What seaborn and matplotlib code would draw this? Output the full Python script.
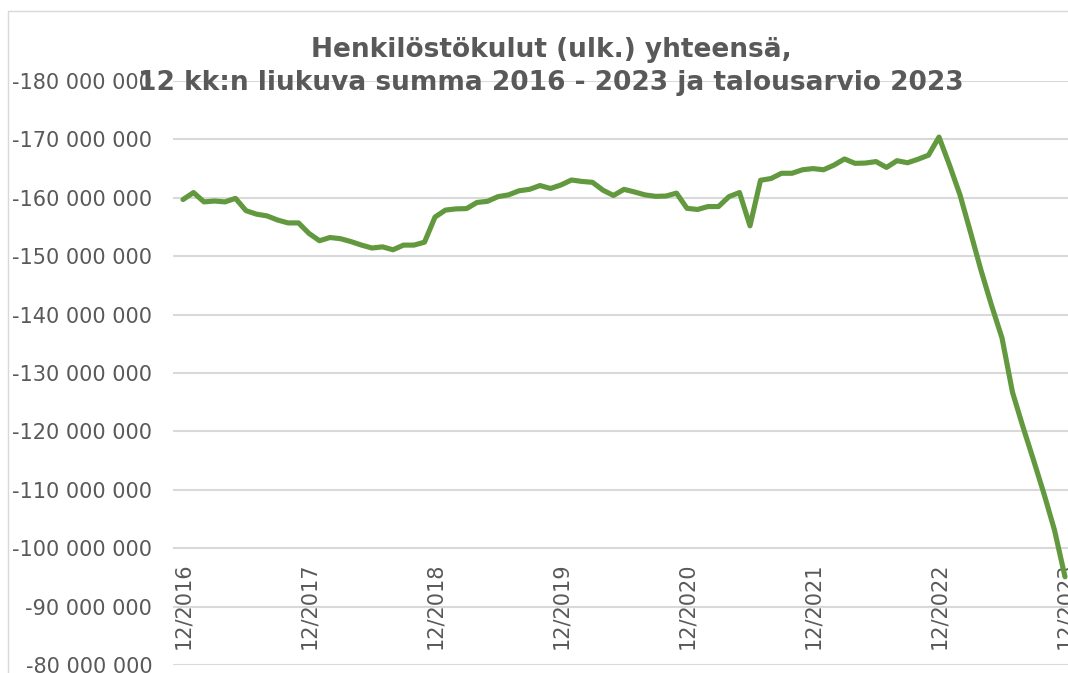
import matplotlib
matplotlib.use("Agg")
import matplotlib.pyplot as plt
from matplotlib.lines import Line2D
from matplotlib.ticker import FuncFormatter, FixedLocator
import seaborn as sns
import pandas as pd
import numpy as np

# ---- data (12-month rolling sum, EUR), monthly 12/2016 .. 12/2023 ----
month_index = list(range(85))
values_millions = [
    -159.7, -160.9, -159.3, -159.45, -159.3, -159.9, -157.8, -157.2, -156.9, -156.2,
    -155.7, -155.7, -153.9, -152.65, -153.2, -153.0, -152.5, -151.9, -151.4, -151.6,
    -151.1, -151.9, -151.9, -152.4, -156.7, -157.9, -158.1, -158.15, -159.2, -159.4,
    -160.2, -160.5, -161.2, -161.45, -162.1, -161.6, -162.2, -163.05, -162.8, -162.65,
    -161.3, -160.4, -161.45, -161.0, -160.5, -160.25, -160.3, -160.8, -158.2, -158.0,
    -158.5, -158.5, -160.2, -160.9, -155.2, -163.0, -163.3, -164.2, -164.2, -164.8,
    -165.0, -164.8, -165.6, -166.65, -165.9, -165.95, -166.2, -165.2, -166.35, -166.0,
    -166.6, -167.3, -170.4, -165.6, -160.5, -154.1, -147.6, -141.6, -136.0, -126.7,
    -120.75, -115.1, -109.3, -103.1, -95.1,
]
tick_positions = [0, 12, 24, 36, 48, 60, 72, 84]
tick_labels = ["12/2016", "12/2017", "12/2018", "12/2019",
               "12/2020", "12/2021", "12/2022", "12/2023"]
y_ticks = [-180e6, -170e6, -160e6, -150e6, -140e6, -130e6,
           -120e6, -110e6, -100e6, -90e6, -80e6]
title_line1 = "Henkilöstökulut (ulk.) yhteensä,"
title_line2 = "12 kk:n liukuva summa 2016 - 2023 ja talousarvio 2023"

df = pd.DataFrame({"m": month_index,
                   "value": [v * 1e6 for v in values_millions]})

sns.set_theme(style="white")
plt.rcParams["font.family"] = ["DejaVu Sans"]
plt.rcParams["axes.unicode_minus"] = False

W, H = 1068, 673
fig = plt.figure(figsize=(W / 100, H / 100), dpi=100)
fig.patch.set_facecolor("white")

left_px, right_px, top_px, bottom_px = 173, 1075, 81, 665
ax = fig.add_axes([left_px / W, 1 - bottom_px / H,
                   (right_px - left_px) / W, (bottom_px - top_px) / H])
ax.set_facecolor("none")

sns.lineplot(data=df, x="m", y="value", ax=ax, color="#62993e",
             linewidth=3.7, solid_joinstyle="round", solid_capstyle="round",
             zorder=3)

x0 = (left_px - 183) / 10.5
x1 = (right_px - 183) / 10.5
ax.set_xlim(x0, x1)
ax.set_ylim(-80e6, -180e6)

ax.yaxis.set_major_locator(FixedLocator(y_ticks))
ax.yaxis.set_major_formatter(
    FuncFormatter(lambda v, p: f"{int(round(v)):,}".replace(",", " ")))
ax.set_xticks(tick_positions)
ax.set_xticklabels(tick_labels)

ax.grid(axis="y", color="#d9d9d9", linewidth=1.5)
ax.grid(axis="x", visible=False)
for s in ax.spines.values():
    s.set_visible(False)

ax.tick_params(axis="y", length=0, pad=15, labelsize=15, labelcolor="#595959")
ax.tick_params(axis="x", length=0, pad=-74, labelsize=15, labelcolor="#595959",
               labelrotation=90)
ax.set_xlabel("")
ax.set_ylabel("")

# chart-area border (cropped)
fig.add_artist(Line2D([7.5 / W, 7.5 / W], [0, 1 - 10.5 / H],
                      transform=fig.transFigure, color="#d9d9d9", lw=1))
fig.add_artist(Line2D([7.5 / W, 1], [1 - 10.5 / H, 1 - 10.5 / H],
                      transform=fig.transFigure, color="#d9d9d9", lw=1))

fig.text(551 / W, 1 - 57.3 / H, title_line1, ha="center", va="baseline",
         fontsize=19, fontweight="bold", color="#595959", zorder=5)
fig.text(551 / W, 1 - 90 / H, title_line2, ha="center", va="baseline",
         fontsize=19, fontweight="bold", color="#595959", zorder=5)

fig.savefig("out.png", dpi=100)
